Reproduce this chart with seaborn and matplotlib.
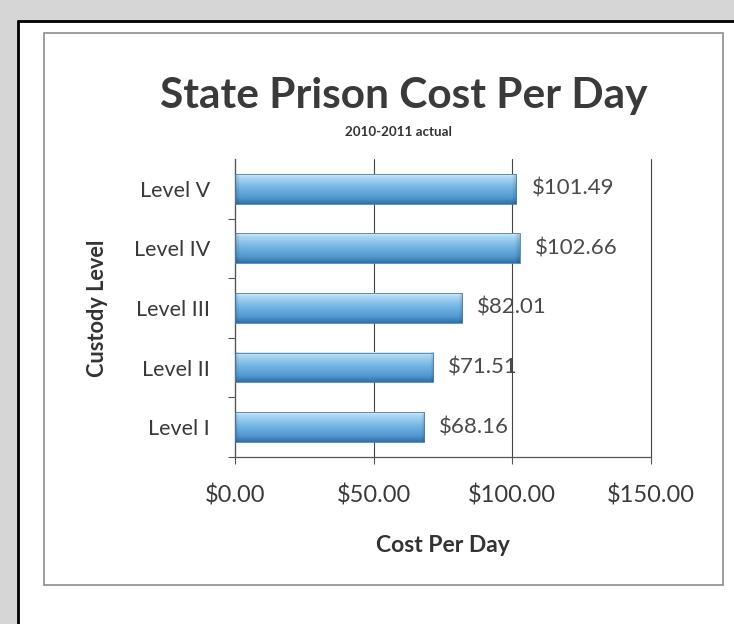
import numpy as np
import pandas as pd
import matplotlib
matplotlib.use("Agg")
import matplotlib.pyplot as plt
from matplotlib.colors import LinearSegmentedColormap
from matplotlib.patches import Rectangle
from matplotlib.lines import Line2D
from matplotlib.ticker import FixedLocator
import seaborn as sns

# Daily cost per inmate by custody level, top to bottom
levels = ["Level V", "Level IV", "Level III", "Level II", "Level I"]
cost_per_day = [101.49, 102.66, 82.01, 71.51, 68.16]
x_ticks = [0, 50, 100, 150]
x_tick_labels = ["$0.00", "$50.00", "$100.00", "$150.00"]

sns.set_theme(style="white")
plt.rcParams["font.family"] = ["Lato", "DejaVu Sans"]

W, H = 734, 624
fig = plt.figure(figsize=(W / 100, H / 100), dpi=100)
fig.patch.set_facecolor("white")


def fx(px):
    return px / W


def fy(py):
    return 1 - py / H


# grey margin and page edge
fig.patches.append(Rectangle((0, fy(20)), 1, 20 / H, transform=fig.transFigure,
                             color="#d6d6d6", zorder=0))
fig.patches.append(Rectangle((0, 0), fx(16), 1, transform=fig.transFigure,
                             color="#d6d6d6", zorder=0))
fig.add_artist(Line2D([fx(18), 1], [fy(21), fy(21)], transform=fig.transFigure,
                      color="black", lw=2))
fig.add_artist(Line2D([fx(18), fx(18)], [0, fy(21)], transform=fig.transFigure,
                      color="black", lw=2))

# chart frame
fig.patches.append(Rectangle((fx(44), fy(585)), fx(723) - fx(44), fy(33) - fy(585),
                             transform=fig.transFigure, fill=False,
                             edgecolor="#8c8c8c", lw=1.2, zorder=1))

ax = fig.add_axes([fx(235), fy(457), fx(651) - fx(235), fy(159) - fy(457)])
df = pd.DataFrame({"level": levels, "cost": cost_per_day})
sns.barplot(data=df, x="cost", y="level", orient="h", width=0.5,
            color="#5fa3d8", errorbar=None, ax=ax)

# glossy gradient fill for each bar
grad_cmap = LinearSegmentedColormap.from_list(
    "gloss",
    [(0.0, "#d4ecfa"), (0.12, "#a9d6f3"), (0.45, "#74b6e4"),
     (0.8, "#5198d0"), (1.0, "#336fa3")])
rows = np.linspace(0, 1, 64)[:, None]
cols = np.linspace(0, 1, 200)[None, :]
for patch in ax.patches:
    x0, y0, w, h = patch.get_x(), patch.get_y(), patch.get_width(), patch.get_height()
    ymin, ymax = min(y0, y0 + h), max(y0, y0 + h)
    shade = grad_cmap(np.repeat(rows, cols.shape[1], axis=1))
    edge = np.clip(np.minimum(cols, 1 - cols) * 60, 0, 1)
    shade[..., :3] *= (0.85 + 0.15 * edge)[..., None]
    ax.imshow(shade, extent=(x0, x0 + w, ymax, ymin), origin="upper",
              aspect="auto", zorder=2, clip_path=patch, clip_on=True)
    patch.set_facecolor("none")
    patch.set_edgecolor("#4a7fae")
    patch.set_linewidth(0.6)
    patch.set_zorder(3)

for i, v in enumerate(cost_per_day):
    ax.text(v + 5.4, i, f"${v:.2f}", va="center", ha="left",
            color="#4a4a4a", fontsize=16)

ax.set_xlim(0, 150)
ax.set_ylim(len(levels) - 0.5, -0.5)
ax.set_xticks(x_ticks)
ax.set_xticklabels(x_tick_labels)
ax.yaxis.set_minor_locator(FixedLocator([0.5, 1.5, 2.5, 3.5, 4.5]))
ax.grid(axis="x", color="#444444", lw=0.8)
for gl in ax.get_xgridlines():
    gl.set_clip_on(False)
ax.set_axisbelow(True)
for s in ["top", "right"]:
    ax.spines[s].set_visible(False)
for s in ["left", "bottom"]:
    ax.spines[s].set_color("#555555")
    ax.spines[s].set_linewidth(0.9)
ax.tick_params(axis="x", which="major", direction="out", length=5, width=0.8,
               color="#555555", pad=15, labelsize=17, labelcolor="#3a3a3a",
               bottom=True)
ax.tick_params(axis="y", which="major", length=0, pad=18, labelsize=15.5,
               labelcolor="#3a3a3a")
ax.tick_params(axis="y", which="minor", direction="out", length=5, width=0.8,
               color="#555555", left=True)
ax.set_xlabel("")
ax.set_ylabel("")
ax.set_facecolor("white")

fig.text(fx(404), fy(96), "State Prison Cost Per Day", ha="center", va="center",
         fontsize=30.5, fontweight="bold", color="#3a3a3a")
fig.text(fx(398), fy(132), "2010-2011 actual", ha="center", va="center",
         fontsize=9.6, fontweight="bold", color="#333333")
fig.text(fx(443), fy(545), "Cost Per Day", ha="center", va="center",
         fontsize=16.5, fontweight="bold", color="#333333")
fig.text(fx(97), fy(308), "Custody Level", ha="center", va="center",
         rotation=90, fontsize=15.7, fontweight="bold", color="#333333")

fig.savefig("out.png", dpi=100, facecolor=fig.get_facecolor())
